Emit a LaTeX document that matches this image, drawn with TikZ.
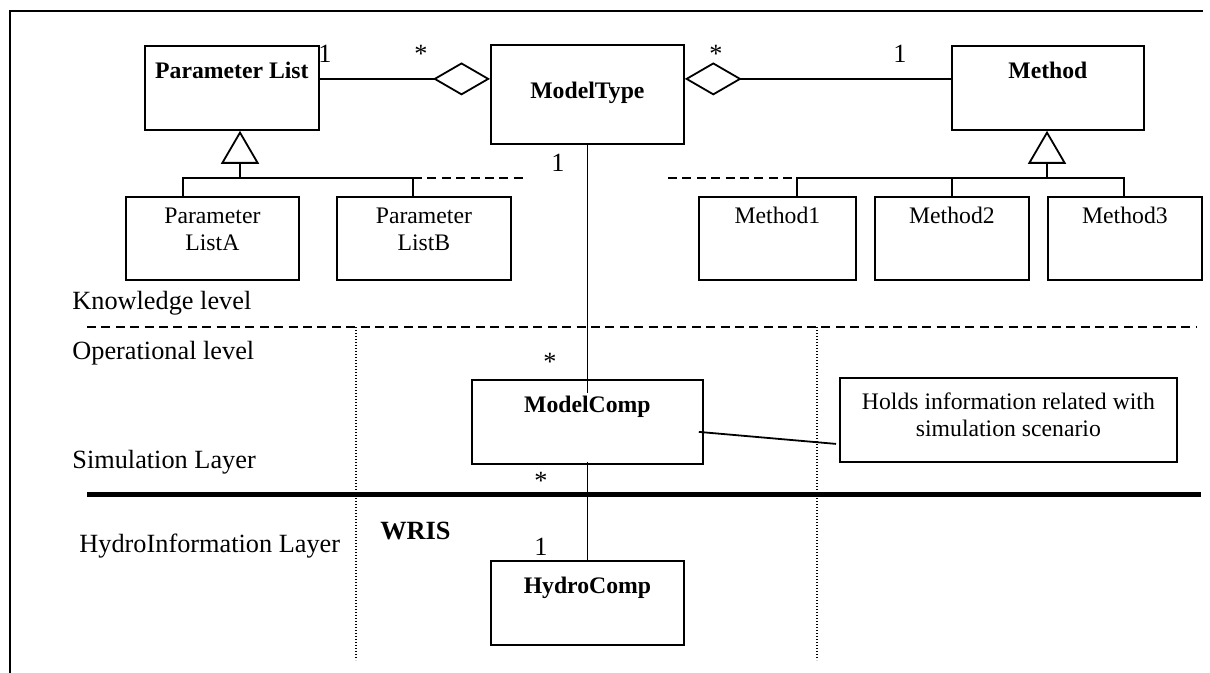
\documentclass[tikz,border=0pt]{standalone}
\usepackage{fontspec}
\setmainfont{Liberation Serif}
\usepackage{tikz}
\usetikzlibrary{calc,arrows.meta}

\newcommand{\clsfont}{\fontsize{11.85}{13.5}\selectfont}
\newcommand{\lvlfont}{\fontsize{13.15}{15}\selectfont}

\begin{document}
\begin{tikzpicture}[x=0.5pt, y=-0.5pt,
    cls/.style={draw, line width=0.9pt, inner sep=0pt, align=center, anchor=north west, font=\clsfont},
    ttl/.style={cls, font=\clsfont\bfseries},
    lvl/.style={anchor=base west, inner sep=0pt, font=\lvlfont},
    mult/.style={anchor=base, inner sep=0pt, font=\lvlfont},
    assoc/.style={line width=0.9pt},
    aggr/.style={assoc, {Diamond[open, length=28.5pt, width=16.5pt]}-},
    inh/.style={assoc, -{Triangle[open, length=16.5pt, width=19pt]}}]
                \useasboundingbox (0,0) rectangle (1210,673);
                \draw [line width=1pt] (10,673) -- (10,11) -- (1203,11);

                % knowledge level
                \node [ttl, minimum width=87pt, text height=16.5pt, text depth=25.5pt] (plist) at (144,45) {Parameter List};
                \node [ttl, minimum width=96.5pt, text height=27pt, text depth=22.5pt] (mtype) at (490,44) {ModelType};
                \node [ttl, minimum width=96pt, text height=16.5pt, text depth=25.5pt] (meth) at (951,45) {Method};

                \node [cls, minimum width=86.5pt, text height=27pt, text depth=14.5pt] (lista) at (125,196) {Parameter\\ListA};
                \node [cls, minimum width=87pt, text height=27pt, text depth=14.5pt] (listb) at (336,196) {Parameter\\ListB};
                \node [cls, minimum width=78.5pt, text height=13.5pt, text depth=28pt] (meth1) at (698,196) {Method1};
                \node [cls, minimum width=77pt, text height=13.5pt, text depth=28pt] (meth2) at (874,196) {Method2};
                \node [cls, minimum width=77pt, text height=13.5pt, text depth=28pt] (meth3) at (1047,196) {Method3};

                \draw [aggr] ([yshift=7.75pt]mtype.west) -- ([yshift=4.5pt]plist.east);
                \draw [aggr] ([yshift=7.75pt]mtype.east) -- ([yshift=4.5pt]meth.west);
                \node [mult] (m1) at (325,63) {1};
                \node [mult] (m2) at (421,63) {*};
                \node [mult] (m3) at (716,63) {*};
                \node [mult] (m4) at (900,63) {1};

                \coordinate (pjoin) at (240,178);
                \coordinate (pa) at (183,178);
                \coordinate (pb) at (413,178);
                \coordinate (pdash) at (528,178);
                \draw [inh] (pjoin) -- (pjoin |- plist.south);
                \draw [assoc] (pa |- lista.north) -- (pa) -- (pb) -- (pb |- listb.north);
                \draw [assoc, dash pattern=on 4.5pt off 2.7pt] (pb) -- (pdash);

                \coordinate (mjoin) at (1047,178);
                \coordinate (ma) at (797,178);
                \coordinate (mc) at (1124,178);
                \coordinate (mdash) at (668,178);
                \draw [inh] (mjoin) -- (mjoin |- meth.south);
                \draw [assoc] (ma |- meth1.north) -- (ma) -- (mc) -- (mc |- meth3.north);
                \draw [assoc] (meth2.north) -- (meth2.north |- ma);
                \draw [assoc, dash pattern=on 4.5pt off 2.7pt] (mdash) -- (ma);

                \node [lvl] (know) at (72,310) {Knowledge level};
                \draw [line width=0.8pt, dash pattern=on 4.5pt off 2.7pt] (87,327) -- (1197,327);
                \node [lvl] (oper) at (72,360) {Operational level};

                % operational level
                \draw [line width=0.6pt, dash pattern=on 0.6pt off 0.9pt] (356,327) -- (356,660);
                \draw [line width=0.6pt, dash pattern=on 0.6pt off 0.9pt] (817,327) -- (817,660);

                \node [ttl, minimum width=115.5pt, text height=16.5pt, text depth=25.5pt] (mcomp) at (471,379) {ModelComp};
                \node [cls, minimum width=168.5pt, text height=29.5pt, text depth=12.5pt] (note) at (839,377) {Holds information related with\\simulation scenario};
                \draw [assoc] ([shift={(-5,10)}]mcomp.east) -- ([shift={(-3,24)}]note.west);

                \draw [assoc] (mtype.south) -- ([yshift=-7pt]mcomp.north);
                \node [mult] (m5) at (558,172) {1};
                \node [mult] (m6) at (550,371) {*};

                \node [lvl] (simu) at (72,468) {Simulation Layer};
                \draw [line width=2.5pt] (87,494) -- (1201,494);
                \node [mult] (m7) at (541,489) {*};

                % hydroinformation layer
                \node [lvl] (hydro) at (79,552) {HydroInformation Layer};
                \node [lvl, font=\lvlfont\bfseries] (wris) at (380,539) {WRIS};
                \node [ttl, minimum width=96.5pt, text height=16.5pt, text depth=25.5pt] (hcomp) at (490,560) {HydroComp};
                \draw [assoc] ([yshift=1.5pt]mcomp.south) -- (hcomp.north);
                \node [mult] (m8) at (541,555) {1};
\end{tikzpicture}
\end{document}
